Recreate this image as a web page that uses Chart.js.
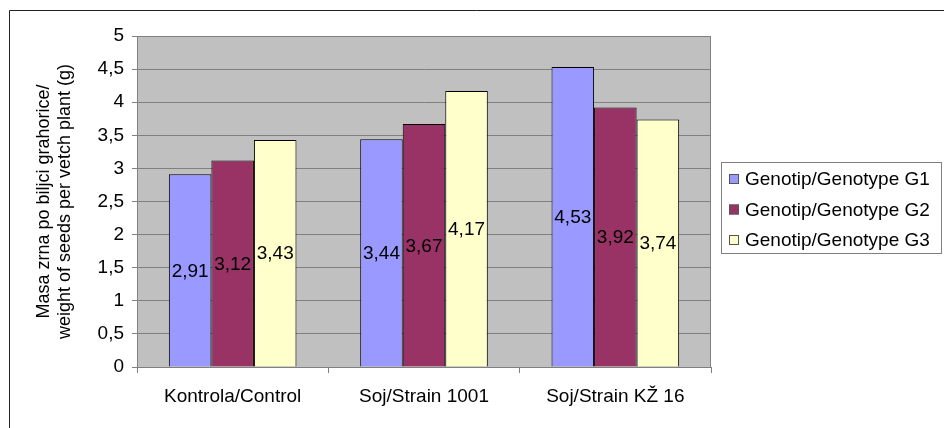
<!DOCTYPE html>
<html>
<head>
<meta charset="utf-8">
<script src="https://cdn.jsdelivr.net/npm/chart.js@4"></script>
<style>
  html, body { margin: 0; padding: 0; background: #fff; }
  #wrap { width: 944px; height: 428px; position: relative; }
</style>
</head>
<body>
<div id="wrap"><canvas id="chart" width="944" height="428"></canvas></div>
<script>
const categories = ['Kontrola/Control', 'Soj/Strain 1001', 'Soj/Strain KŽ 16'];
const seriesNames = ['Genotip/Genotype G1', 'Genotip/Genotype G2', 'Genotip/Genotype G3'];
const g1 = [2.91, 3.44, 4.53];
const g2 = [3.12, 3.67, 3.92];
const g3 = [3.43, 4.17, 3.74];
const colors = ['#9999FF', '#993366', '#FFFFCC'];
const yTitle = ['Masa zrna po biljci grahorice/', 'weight of seeds per vetch plant (g)'];

const FONT = 'Liberation Sans, Arial, sans-serif';
const comma = (v, d) => v.toFixed(d).replace('.', ',');

// gray plot area, outer frame
const plotBg = {
  id: 'plotBg',
  beforeDraw(chart) {
    const {ctx, chartArea: a} = chart;
    ctx.save();
    ctx.fillStyle = '#C0C0C0';
    ctx.fillRect(a.left, a.top, a.right - a.left, a.bottom - a.top);
    ctx.strokeStyle = '#808080';
    ctx.lineWidth = 1;
    ctx.strokeRect(a.left + 0.5, a.top + 0.5, a.right - a.left - 1, a.bottom - a.top);
    ctx.strokeStyle = '#222';
    ctx.beginPath();
    ctx.moveTo(9.5, 428);
    ctx.lineTo(9.5, 10.5);
    ctx.lineTo(944, 10.5);
    ctx.stroke();
    ctx.restore();
  }
};

// values in the middle of each bar
const barValues = {
  id: 'barValues',
  afterDatasetsDraw(chart) {
    const ctx = chart.ctx;
    ctx.save();
    ctx.font = '19px ' + FONT;
    ctx.fillStyle = '#000';
    ctx.textAlign = 'center';
    ctx.textBaseline = 'middle';
    chart.data.datasets.forEach((ds, i) => {
      chart.getDatasetMeta(i).data.forEach((bar, j) => {
        ctx.fillText(comma(ds.data[j], 2), bar.x, (bar.y + bar.base) / 2 + 1);
      });
    });
    ctx.restore();
  }
};

// boxed legend on the right
const boxLegend = {
  id: 'boxLegend',
  afterDraw(chart) {
    const ctx = chart.ctx;
    const x = 721, y = 162, w = 221, h = 92;
    ctx.save();
    ctx.fillStyle = '#fff';
    ctx.fillRect(x, y, w, h);
    ctx.strokeStyle = '#808080';
    ctx.lineWidth = 1;
    ctx.strokeRect(x + 0.5, y + 0.5, w - 1, h - 1);
    ctx.font = '19px ' + FONT;
    ctx.textBaseline = 'middle';
    chart.data.datasets.forEach((ds, i) => {
      const cy = 179 + i * 30.5;
      ctx.fillStyle = ds.backgroundColor;
      ctx.fillRect(729, cy - 5, 10, 10);
      ctx.strokeStyle = '#555';
      ctx.strokeRect(729.5, cy - 4.5, 9, 9);
      ctx.fillStyle = '#000';
      ctx.fillText(ds.label, 745, cy + 1);
    });
    ctx.restore();
  }
};

new Chart(document.getElementById('chart'), {
  type: 'bar',
  data: {
    labels: categories,
    datasets: [g1, g2, g3].map((d, i) => ({
      label: seriesNames[i],
      data: d,
      backgroundColor: colors[i],
      borderColor: '#000',
      borderWidth: 1,
      borderSkipped: 'bottom',
      categoryPercentage: 0.667,
      barPercentage: 1
    }))
  },
  options: {
    responsive: false,
    animation: false,
    layout: { padding: { top: 36, right: 233, bottom: 0, left: 0 } },
    scales: {
      x: {
        afterFit: s => { s.height = 61; },
        grid: { offset: true, drawOnChartArea: false, tickLength: 6, color: '#808080' },
        border: { display: true, color: '#808080' },
        ticks: { color: '#000', padding: 12, font: { family: FONT, size: 19 } }
      },
      y: {
        min: 0,
        max: 5,
        afterFit: s => { s.width = 137; },
        grid: { color: '#808080', tickLength: 5 },
        border: { display: true, color: '#808080' },
        ticks: {
          stepSize: 0.5,
          color: '#000',
          padding: 8,
          font: { family: FONT, size: 19 },
          callback: v => v % 1 === 0 ? String(v) : comma(v, 1)
        },
        title: {
          display: true,
          text: yTitle,
          color: '#000',
          font: { family: FONT, size: 18, lineHeight: 1.2 },
          padding: { top: 33, bottom: 0 }
        }
      }
    },
    plugins: {
      legend: { display: false },
      tooltip: { enabled: false }
    }
  },
  plugins: [plotBg, barValues, boxLegend]
});
</script>
</body>
</html>
